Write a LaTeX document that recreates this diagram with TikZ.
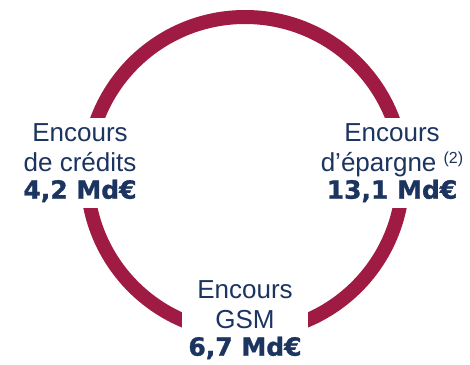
\documentclass[tikz,border=0pt]{standalone}
\usepackage{fontspec}
\setmainfont{Liberation Sans}
\newfontfamily\boldfont[FakeBold=1.2]{DejaVu Sans Bold}
\usetikzlibrary{positioning}
\definecolor{ringred}{RGB}{160,27,68}
\definecolor{navy}{RGB}{28,52,96}
\newcommand{\amount}[1]{{\boldfont\fontsize{25pt}{25pt}\selectfont #1}}

\begin{document}
\begin{tikzpicture}
    [x=1pt, y=1pt,
      ring/.style={draw=ringred, line width=14pt},
      block/.style={fill=white, text=navy, align=center, inner sep=6pt,
        font=\fontsize{26pt}{30pt}\selectfont},
     ]
    \useasboundingbox (0,0) rectangle (470,364);
    \coordinate (centre) at (245,189);
    \draw[ring] (centre) circle (158);

    \node[block] (credits) at (80,201) {Encours\\de crédits\\[-3pt]\amount{4,2 Md€}};
    \node[block] (epargne) at (392,201)
      {Encours\\d’épargne {\fontsize{16pt}{16pt}\selectfont\raisebox{8pt}{(2)}}\\[-3pt]\amount{13,1 Md€}};
    \node[block] (gsm) at (245,44) {Encours\\GSM\\[-3pt]\amount{6,7 Md€}};
\end{tikzpicture}
\end{document}
